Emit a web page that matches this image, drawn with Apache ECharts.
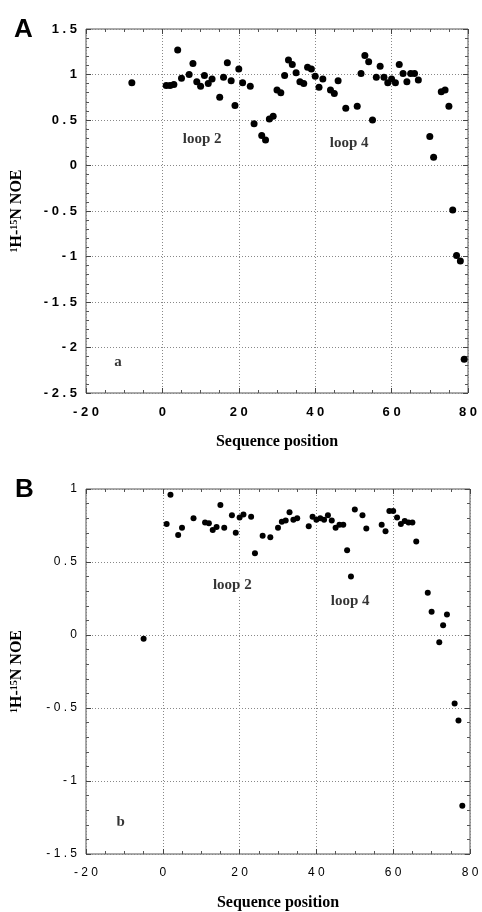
<!DOCTYPE html>
<html>
<head>
<meta charset="utf-8">
<script src="https://cdn.jsdelivr.net/npm/echarts@6/dist/echarts.min.js"></script>
<style>
html,body{margin:0;padding:0;background:#fff;}
#main{width:482px;height:912px;}
</style>
</head>
<body>
<div id="main"></div>
<script>
// Panel A data
var posA = [-8, 1, 2, 3, 4, 5, 7, 8, 9, 10, 11, 12, 13, 15, 16, 17, 18, 19, 20, 21, 23, 24, 26, 27, 28, 29, 30, 31, 32, 33, 34, 35, 36, 37, 38, 39, 40, 41, 42, 44, 45, 46, 48, 51, 52, 53, 54, 55, 56, 57, 58, 59, 60, 61, 62, 63, 64, 65, 66, 67, 70, 71, 73, 74, 75, 76, 77, 78, 79];
var noeA = [0.91, 0.88, 0.88, 0.89, 1.27, 0.96, 1.0, 1.12, 0.92, 0.87, 0.99, 0.90, 0.95, 0.75, 0.97, 1.13, 0.93, 0.66, 1.06, 0.91, 0.87, 0.46, 0.33, 0.28, 0.51, 0.54, 0.83, 0.80, 0.99, 1.16, 1.11, 1.02, 0.92, 0.90, 1.08, 1.06, 0.98, 0.86, 0.95, 0.83, 0.79, 0.93, 0.63, 0.65, 1.01, 1.21, 1.14, 0.50, 0.97, 1.09, 0.97, 0.91, 0.95, 0.91, 1.11, 1.01, 0.92, 1.01, 1.01, 0.94, 0.32, 0.09, 0.81, 0.83, 0.65, -0.49, -0.99, -1.05, -2.13];
// Panel B data
var posB = [-5, 1, 2, 4, 5, 8, 11, 12, 13, 14, 15, 16, 18, 19, 20, 21, 23, 24, 26, 28, 30, 31, 32, 33, 34, 35, 38, 39, 40, 41, 42, 43, 44, 45, 46, 47, 48, 49, 50, 52, 53, 57, 58, 59, 60, 61, 62, 63, 64, 65, 66, 69, 70, 72, 73, 74, 76, 77, 78];
var noeB = [-0.025, 0.76, 0.96, 0.685, 0.735, 0.80, 0.77, 0.765, 0.72, 0.74, 0.89, 0.735, 0.82, 0.70, 0.805, 0.825, 0.81, 0.56, 0.68, 0.67, 0.735, 0.775, 0.785, 0.84, 0.79, 0.80, 0.745, 0.81, 0.79, 0.80, 0.79, 0.82, 0.785, 0.735, 0.755, 0.755, 0.58, 0.40, 0.86, 0.82, 0.73, 0.755, 0.71, 0.85, 0.85, 0.805, 0.76, 0.78, 0.77, 0.77, 0.64, 0.29, 0.16, -0.05, 0.066, 0.14, -0.47, -0.585, -1.17];
// Axis ranges / ticks
var xRange = [-20, 80], xStep = 20;
var yRangeA = [-2.5, 1.5], yRangeB = [-1.5, 1], yStep = 0.5;
// Annotations (data coordinates)
var notesA = [[10.4, 0.29, 'loop 2'], [48.9, 0.25, 'loop 4'], [-11.6, -2.16, 'a']];
var notesB = [[18.1, 0.34, 'loop 2'], [48.8, 0.23, 'loop 4'], [-11.0, -1.28, 'b']];
var panelLetters = ['A', 'B'];
var xTitle = 'Sequence position';

function zip(a, b) { return a.map(function (v, i) { return [v, b[i]]; }); }
function spaced(v) { return String(v).split('').join(' '); }

var serif = '"Liberation Serif", "DejaVu Serif", serif';
var sans = '"Liberation Sans", Arial, sans-serif';

function xAx(gi, main, bold) {
  return {
    type: 'value', gridIndex: gi, min: xRange[0], max: xRange[1], interval: xStep,
    position: main ? 'bottom' : 'top',
    axisLine: { show: false, onZero: false },
    axisTick: { show: true, inside: true, length: 5, lineStyle: { color: '#444' } },
    minorTick: { show: true, splitNumber: 4, length: 3, lineStyle: { color: '#555' } },
    splitLine: { show: main, lineStyle: { color: '#888', type: [1, 2], width: 1 } },
    axisLabel: { show: main, margin: 13, color: '#000', fontFamily: sans, fontSize: bold ? 13 : 12, fontWeight: bold ? 'bold' : 'normal', formatter: spaced },
    name: main ? xTitle : '', nameLocation: 'middle', nameGap: 41,
    nameTextStyle: { fontFamily: serif, fontWeight: 'bold', fontSize: 16, color: '#000' }
  };
}
function yAx(gi, range, main, bold) {
  return {
    type: 'value', gridIndex: gi, min: range[0], max: range[1], interval: yStep,
    position: main ? 'left' : 'right',
    axisLine: { show: false, onZero: false },
    axisTick: { show: true, inside: true, length: 5, lineStyle: { color: '#444' } },
    minorTick: { show: true, splitNumber: 5, length: 3, lineStyle: { color: '#555' } },
    splitLine: { show: main, lineStyle: { color: '#888', type: [1, 2], width: 1 } },
    axisLabel: { show: main, margin: 9, color: '#000', fontFamily: sans, fontSize: bold ? 13 : 12, fontWeight: bold ? 'bold' : 'normal', formatter: spaced },
    name: main ? '{s|1}{b|H-}{s|15}{b|N NOE}' : '', nameLocation: 'middle', nameRotate: 90, nameGap: 61,
    nameTextStyle: {
      rich: {
        s: { fontFamily: serif, fontWeight: 'bold', fontSize: 10, color: '#000', verticalAlign: 'top', lineHeight: 10 },
        b: { fontFamily: serif, fontWeight: 'bold', fontSize: 16, color: '#000', lineHeight: 16 }
      }
    }
  };
}
function dots(xi, yi, data, size) {
  return { type: 'scatter', xAxisIndex: xi, yAxisIndex: yi, data: data, symbolSize: size,
    itemStyle: { color: '#000', opacity: 1 }, silent: true, z: 5 };
}
function notes(xi, yi, data, bg) {
  return { type: 'scatter', xAxisIndex: xi, yAxisIndex: yi, data: data, symbolSize: 1,
    itemStyle: { color: 'rgba(0,0,0,0)' }, silent: true, z: 6,
    label: { show: true, position: 'inside', formatter: function (p) { return p.data[2]; },
      fontFamily: serif, fontWeight: 'bold', fontSize: 15, color: '#000',
      backgroundColor: bg ? '#fff' : 'transparent', padding: bg ? [4, 3] : 0 } };
}

var chart = echarts.init(document.getElementById('main'), null, { renderer: 'canvas' });
chart.setOption({
  backgroundColor: '#fff',
  animation: false,
  title: [
    { text: panelLetters[0], left: 9, top: 12, textStyle: { fontFamily: sans, fontWeight: 'bold', fontSize: 26, color: '#000' } },
    { text: panelLetters[1], left: 10, top: 472, textStyle: { fontFamily: sans, fontWeight: 'bold', fontSize: 26, color: '#000' } }
  ],
  grid: [
    { left: 86, top: 29, width: 382, height: 364, show: true, borderColor: '#555', borderWidth: 1, backgroundColor: 'transparent' },
    { left: 86, top: 489, width: 384, height: 365, show: true, borderColor: '#555', borderWidth: 1, backgroundColor: 'transparent' }
  ],
  xAxis: [xAx(0, true, true), xAx(0, false, true), xAx(1, true, false), xAx(1, false, false)],
  yAxis: [yAx(0, yRangeA, true, true), yAx(0, yRangeA, false, true), yAx(1, yRangeB, true, false), yAx(1, yRangeB, false, false)],
  series: [
    dots(0, 0, zip(posA, noeA), 7),
    dots(2, 2, zip(posB, noeB), 6),
    notes(0, 0, notesA, false),
    notes(2, 2, notesB, true)
  ]
});
</script>
</body>
</html>
